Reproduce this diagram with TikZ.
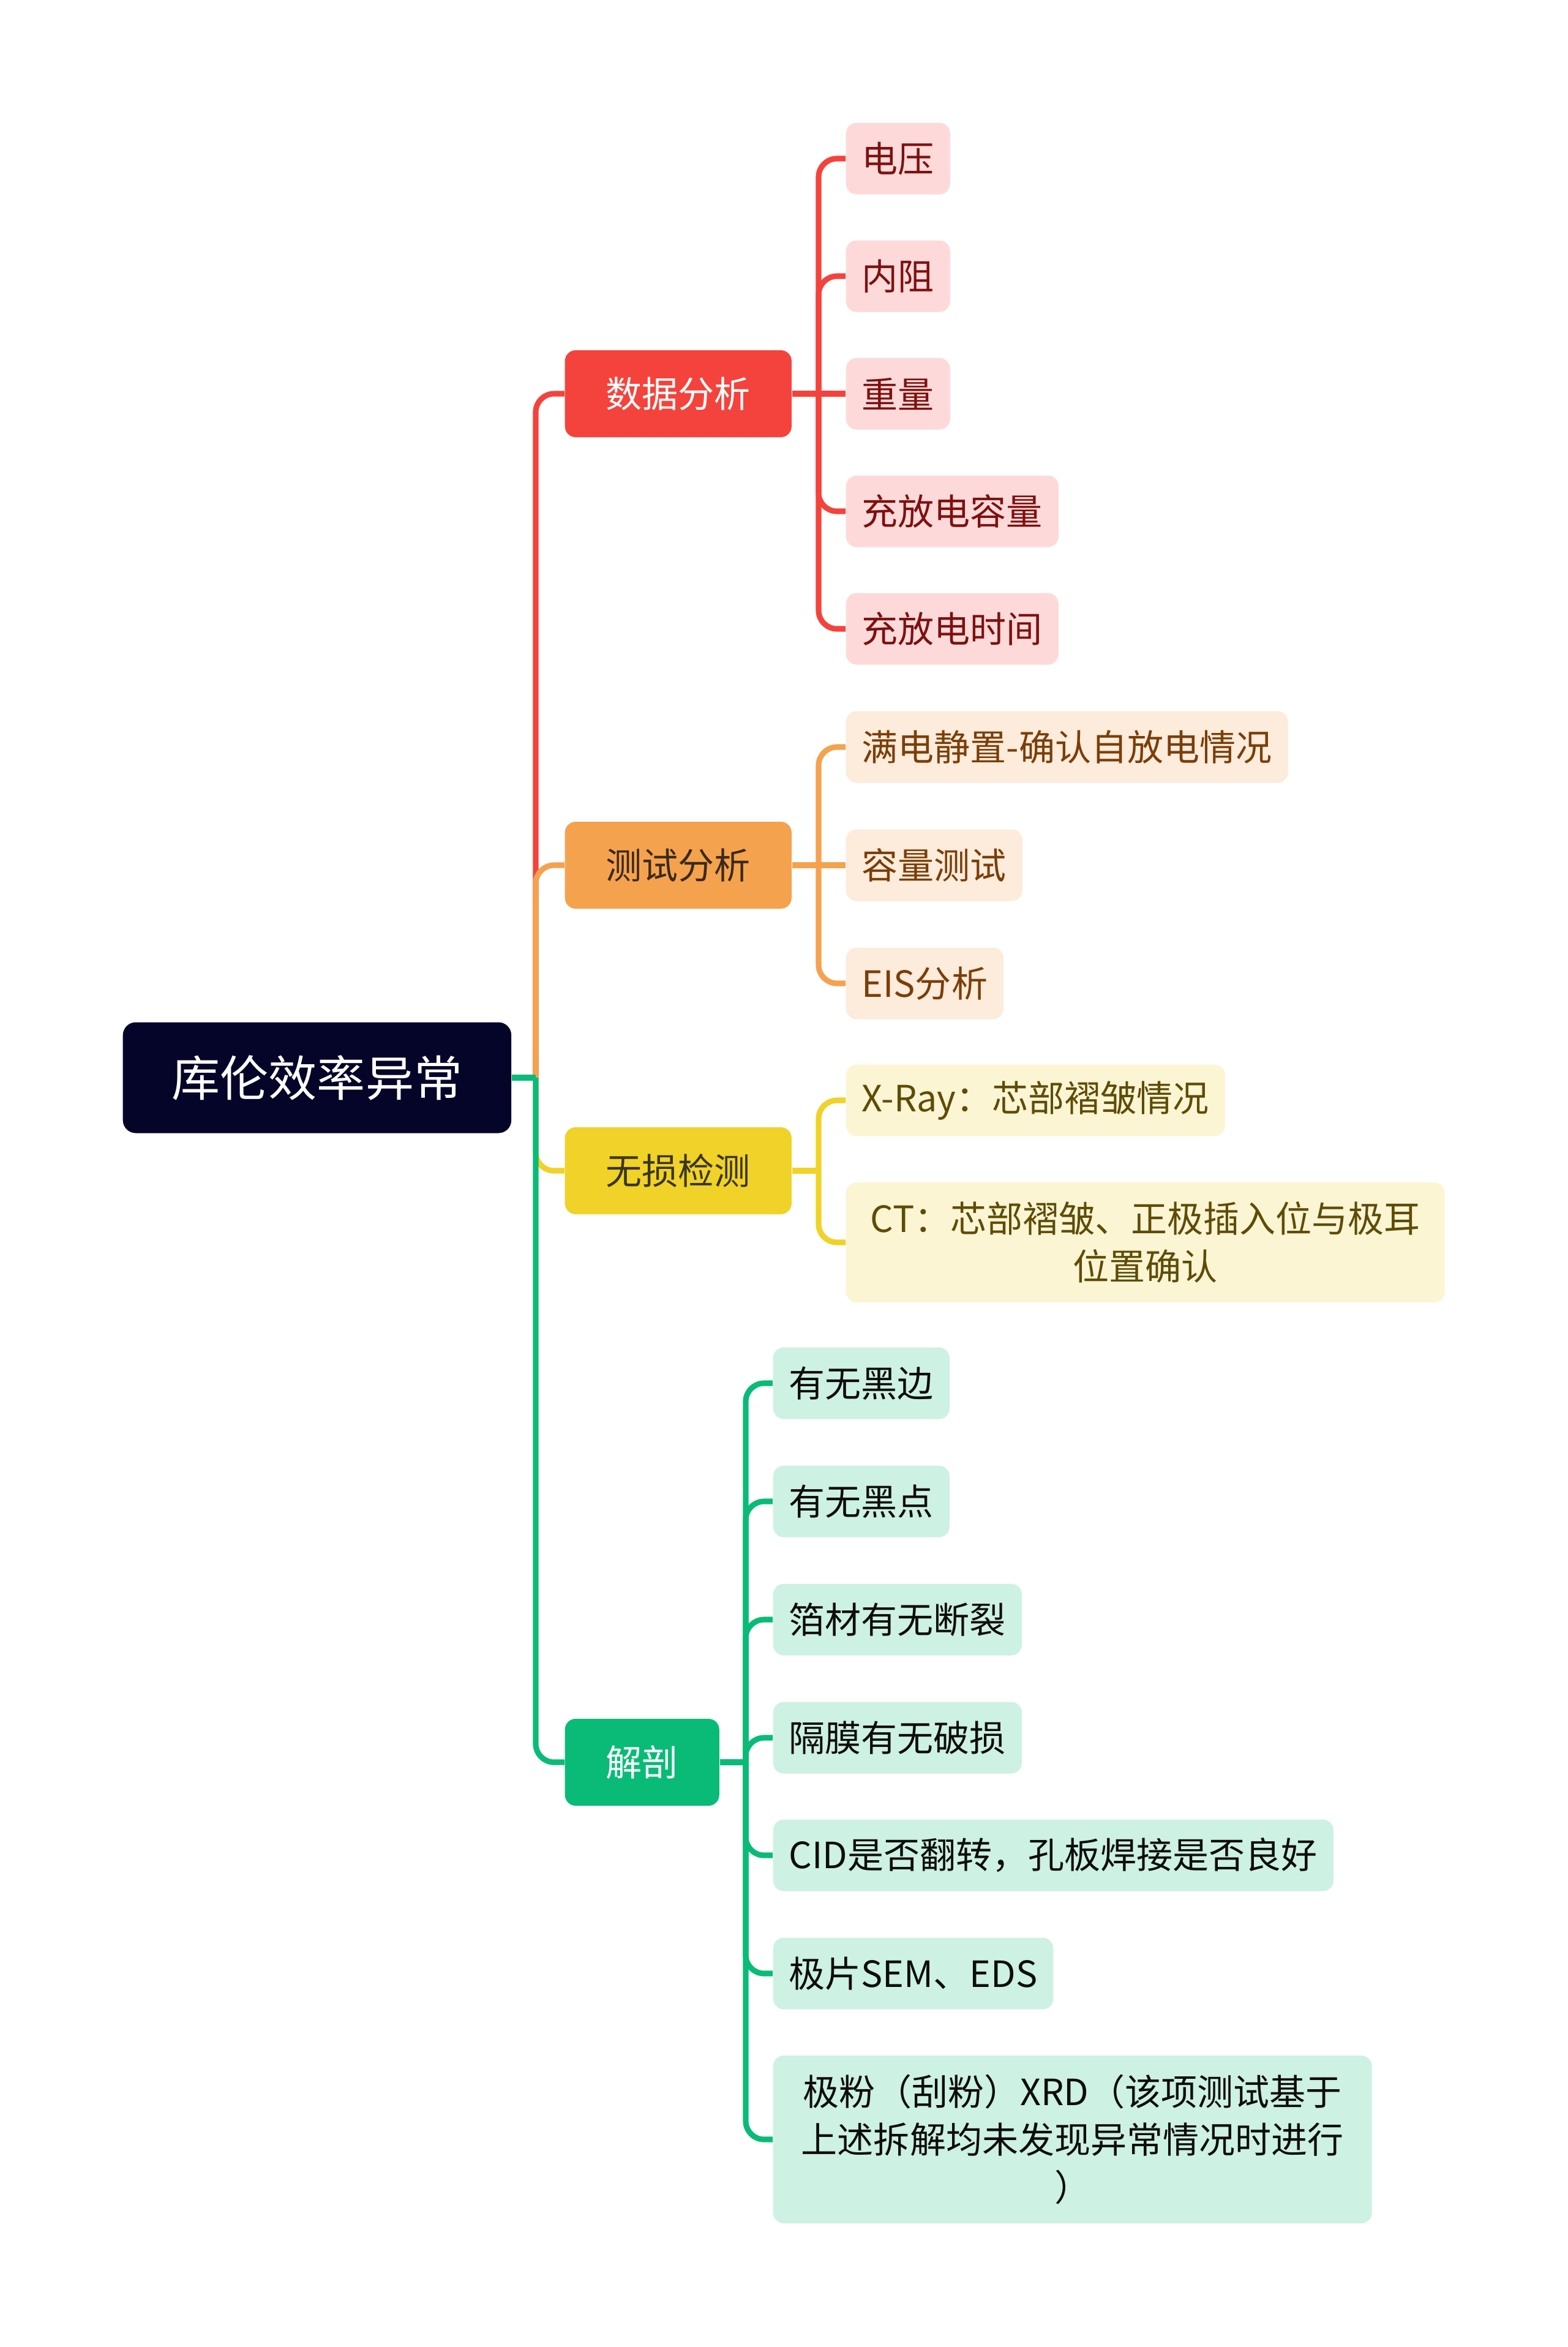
\documentclass[tikz,border=0pt]{standalone}
\usepackage{fontspec}
\setmainfont{Noto Sans CJK SC}
\usepackage{xcolor}
\usepackage{tikz}
\usetikzlibrary{positioning, calc}

\definecolor{rootfill}{HTML}{05052A}
\definecolor{redmain}{HTML}{F4433C}
\definecolor{redsub}{HTML}{FDDAD9}
\definecolor{redtext}{HTML}{7E1010}
\definecolor{orangemain}{HTML}{F5A24F}
\definecolor{orangesub}{HTML}{FDEBDB}
\definecolor{orangetext}{HTML}{7A3E08}
\definecolor{orangedark}{HTML}{3B2A1A}
\definecolor{yellowmain}{HTML}{F0D228}
\definecolor{yellowsub}{HTML}{FCF5D4}
\definecolor{yellowtext}{HTML}{5E4C06}
\definecolor{yellowdark}{HTML}{3A3520}
\definecolor{greenmain}{HTML}{0ABB77}
\definecolor{greensub}{HTML}{CDF1E2}
\definecolor{greentext}{HTML}{0D0D0D}

\begin{document}
\begin{tikzpicture}[
    rootnode/.style={rectangle, rounded corners=6pt, fill=rootfill, text=white, anchor=west, minimum height=1.81cm, inner xsep=0.8cm, font=\fontsize{22.5pt}{27pt}\selectfont},
    mainnode/.style={rectangle, rounded corners=5pt, anchor=west, minimum height=1.42cm, inner xsep=0.67cm, font=\fontsize{16.8pt}{22.2pt}\selectfont},
    subnode/.style={rectangle, rounded corners=5pt, anchor=west, minimum height=1.17cm, inner xsep=0.26cm, align=center, font=\fontsize{16.8pt}{22.2pt}\selectfont},
    redbox/.style={mainnode, fill=redmain, text=white},
    orangebox/.style={mainnode, fill=orangemain, text=orangedark},
    yellowbox/.style={mainnode, fill=yellowmain, text=yellowdark},
    greenbox/.style={mainnode, fill=greenmain, text=white},
    redleaf/.style={subnode, fill=redsub, text=redtext},
    orangeleaf/.style={subnode, fill=orangesub, text=orangetext},
    yellowleaf/.style={subnode, fill=yellowsub, text=yellowtext},
    greenleaf/.style={subnode, fill=greensub, text=greentext},
    branch/.style={line width=2.6pt, rounded corners=0.3cm},
    redline/.style={branch, draw=redmain},
    orangeline/.style={branch, draw=orangemain},
    yellowline/.style={branch, draw=yellowmain},
    greenline/.style={branch, draw=greenmain}
]

\useasboundingbox (0,0) rectangle (25.6,-38.33);

% Root
\node[rootnode] (root) at (2.00,-17.60) {库伦效率异常};

% Level-1 nodes
\node[redbox] (data) at (9.22,-6.43) {数据分析};
\node[orangebox] (test) at (9.22,-14.13) {测试分析};
\node[yellowbox] (ndt) at (9.22,-19.12) {无损检测};
\node[greenbox] (cut) at (9.22,-28.78) {解剖};

% Data analysis leaves
\node[redleaf] (d1) at (13.81,-2.59) {电压};
\node[redleaf] (d2) at (13.81,-4.51) {内阻};
\node[redleaf] (d3) at (13.81,-6.43) {重量};
\node[redleaf] (d4) at (13.81,-8.35) {充放电容量};
\node[redleaf] (d5) at (13.81,-10.27) {充放电时间};

% Test analysis leaves
\node[orangeleaf] (t1) at (13.81,-12.20) {满电静置-确认自放电情况};
\node[orangeleaf] (t2) at (13.81,-14.13) {容量测试};
\node[orangeleaf] (t3) at (13.81,-16.06) {EIS分析};

% Non-destructive leaves
\node[yellowleaf] (n1) at (13.81,-17.97) {X-Ray：芯部褶皱情况};
\node[yellowleaf, minimum width=9.78cm, minimum height=1.96cm] (n2) at (13.81,-20.29) {CT：芯部褶皱、正极插入位与极耳\\位置确认};

% Teardown leaves
\node[greenleaf] (c1) at (12.62,-22.59) {有无黑边};
\node[greenleaf] (c2) at (12.62,-24.52) {有无黑点};
\node[greenleaf] (c3) at (12.62,-26.45) {箔材有无断裂};
\node[greenleaf] (c4) at (12.62,-28.38) {隔膜有无破损};
\node[greenleaf] (c5) at (12.62,-30.30) {CID是否翻转，孔板焊接是否良好};
\node[greenleaf] (c6) at (12.62,-32.23) {极片SEM、EDS};
\node[greenleaf, minimum width=9.78cm, minimum height=2.74cm] (c7) at (12.62,-34.94) {极粉（刮粉）XRD（该项测试基于\\上述拆解均未发现异常情况时进行\\）};

% Junctions
\coordinate (rj) at (8.75,-17.60);
\coordinate (dj) at (13.37,-6.43);
\coordinate (tj) at (13.37,-14.13);
\coordinate (nj) at (13.37,-19.12);
\coordinate (cj) at (12.18,-28.78);

% Root -> level-1
\draw[redline] (rj) |- (data.west);
\draw[orangeline] (rj) |- (test.west);
\draw[yellowline] (rj) |- (ndt.west);
\draw[greenline] (rj) |- (cut.west);
\draw[greenline] (root.east) -- (rj);

% Data analysis -> leaves
\draw[redline] (data.east) -- (dj);
\draw[redline] (dj) |- (d1.west);
\draw[redline] (dj) |- (d2.west);
\draw[redline] (dj) -- (d3.west);
\draw[redline] (dj) |- (d4.west);
\draw[redline] (dj) |- (d5.west);

% Test analysis -> leaves
\draw[orangeline] (test.east) -- (tj);
\draw[orangeline] (tj) |- (t1.west);
\draw[orangeline] (tj) -- (t2.west);
\draw[orangeline] (tj) |- (t3.west);

% Non-destructive -> leaves
\draw[yellowline] (ndt.east) -- (nj);
\draw[yellowline] (nj) |- (n1.west);
\draw[yellowline] (nj) |- (n2.west);

% Teardown -> leaves
\draw[greenline] (cut.east) -- (cj);
\draw[greenline] (cj) |- (c1.west);
\draw[greenline] (cj) |- (c2.west);
\draw[greenline] (cj) |- (c3.west);
\draw[greenline] (cj) |- (c4.west);
\draw[greenline] (cj) |- (c5.west);
\draw[greenline] (cj) |- (c6.west);
\draw[greenline] (cj) |- (c7.west);

\end{tikzpicture}
\end{document}
